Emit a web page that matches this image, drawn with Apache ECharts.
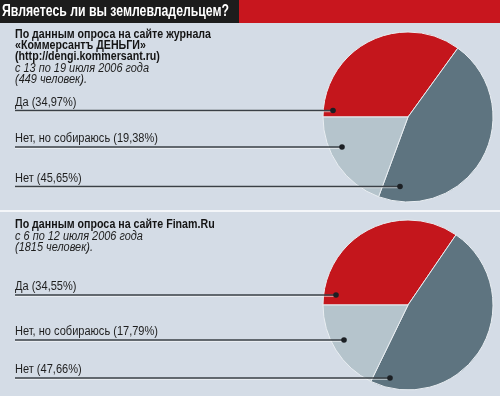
<!DOCTYPE html>
<html>
<head>
<meta charset="utf-8">
<script src="https://cdn.jsdelivr.net/npm/echarts@6/dist/echarts.min.js"></script>
<style>
html,body{margin:0;padding:0;background:#d4dce6;}
#chart{width:500px;height:396px;}
</style>
</head>
<body>
<div id="chart"></div>
<script>
// ---- data ----
const chartTitle = 'Являетесь ли вы землевладельцем?';
const categories = ['Да', 'Нет, но собираюсь', 'Нет'];
const survey1Values = [34.97, 19.38, 45.65];
const survey2Values = [34.55, 17.79, 47.66];
const survey1Header = ['По данным опроса на сайте журнала', '«Коммерсантъ ДЕНЬГИ»', '(http://dengi.kommersant.ru)'];
const survey1Note = ['с 13 по 19 июля 2006 года', '(449 человек).'];
const survey2Header = ['По данным опроса на сайте Finam.Ru'];
const survey2Note = ['с 6 по 12 июля 2006 года', '(1815 человек).'];
// order of slices clockwise starting at 9 o'clock
const pieOrder = [0, 2, 1];

// ---- styles ----
const sliceColors = ['#c4161c', '#b5c4cc', '#5e7480'];
const FAMILY = '"Liberation Sans",Arial,sans-serif';
const titleFont = 'bold 16px ' + FAMILY;
const headFont = 'bold 12px ' + FAMILY;
const noteFont = 'italic 12px ' + FAMILY;
const labelFont = '12px ' + FAMILY;

// condensed look: horizontal scale fitted to the reference's text widths
const mctx = document.createElement('canvas').getContext('2d');
function fitScale(font, sample, target) { mctx.font = font; return target / mctx.measureText(sample).width; }
const titleScale = fitScale(titleFont, chartTitle, 227);
const headScale = fitScale(headFont, survey1Header[0], 196);
const noteScale = fitScale(noteFont, survey1Note[0], 134);
const labelScale = fitScale(labelFont, 'Нет, но собираюсь (19,38%)', 143);

function fmt(v) { return v.toFixed(2).replace('.', ',') + '%'; }

const chart = echarts.init(document.getElementById('chart'), null, {renderer: 'canvas'});

const graphics = [];
function txt(t, x, y, font, scale, fill, z) {
  graphics.push({type: 'text', z: z || 5, x: x, y: y, scaleX: scale,
    style: {text: t, x: 0, y: 0, font: font, fill: fill, textVerticalAlign: 'middle'}});
}
// title bar
graphics.push({type: 'rect', z: 0, shape: {x: 0, y: 0, width: 239, height: 23}, style: {fill: '#1c1c1c'}});
graphics.push({type: 'rect', z: 0, shape: {x: 239, y: 0, width: 261, height: 23}, style: {fill: '#c8161e'}});
txt(chartTitle, 2, 11.5, titleFont, titleScale, '#ffffff', 1);
// separator
graphics.push({type: 'rect', z: 0, shape: {x: 0, y: 210, width: 500, height: 2}, style: {fill: '#f4f6f9'}});

function addBlock(header, note, headerY, step) {
  let y = headerY;
  header.forEach(t => { txt(t, 15, y, headFont, headScale, '#141414'); y += step; });
  note.forEach(t => { txt(t, 15, y, noteFont, noteScale, '#1e1e1e'); y += step; });
}
addBlock(survey1Header, survey1Note, 34.5, 11.3);
addBlock(survey2Header, survey2Note, 225, 11.3);

function addLabels(values, lineYs, dotXs) {
  categories.forEach((c, i) => {
    const ly = lineYs[i];
    txt(c + ' (' + fmt(values[i]) + ')', 15, ly - 8, labelFont, labelScale, '#1e1e1e');
    graphics.push({type: 'line', z: 10, shape: {x1: 15, y1: ly + 1.2, x2: dotXs[i], y2: ly + 1.2}, style: {stroke: 'rgba(255,255,255,0.7)', lineWidth: 1}});
    graphics.push({type: 'line', z: 11, shape: {x1: 15, y1: ly, x2: dotXs[i], y2: ly}, style: {stroke: '#3a4046', lineWidth: 1.3}});
    graphics.push({type: 'circle', z: 12, shape: {cx: dotXs[i], cy: ly, r: 2.8}, style: {fill: '#1c2024'}});
  });
}
addLabels(survey1Values, [110.5, 147, 186.5], [333, 342, 400]);
addLabels(survey2Values, [295, 340, 378], [336, 344, 390]);

function pieSeries(values, center) {
  return {
    type: 'pie',
    center: center,
    radius: 85,
    startAngle: 180,
    clockwise: true,
    silent: true,
    z: 2,
    label: {show: false},
    labelLine: {show: false},
    itemStyle: {borderColor: '#e9eef2', borderWidth: 1},
    data: pieOrder.map(i => ({name: categories[i], value: values[i], itemStyle: {color: sliceColors[i]}}))
  };
}

chart.setOption({
  backgroundColor: '#d4dce6',
  animation: false,
  graphic: {elements: graphics},
  series: [
    pieSeries(survey1Values, [408, 117]),
    pieSeries(survey2Values, [408, 305])
  ]
});
</script>
</body>
</html>
